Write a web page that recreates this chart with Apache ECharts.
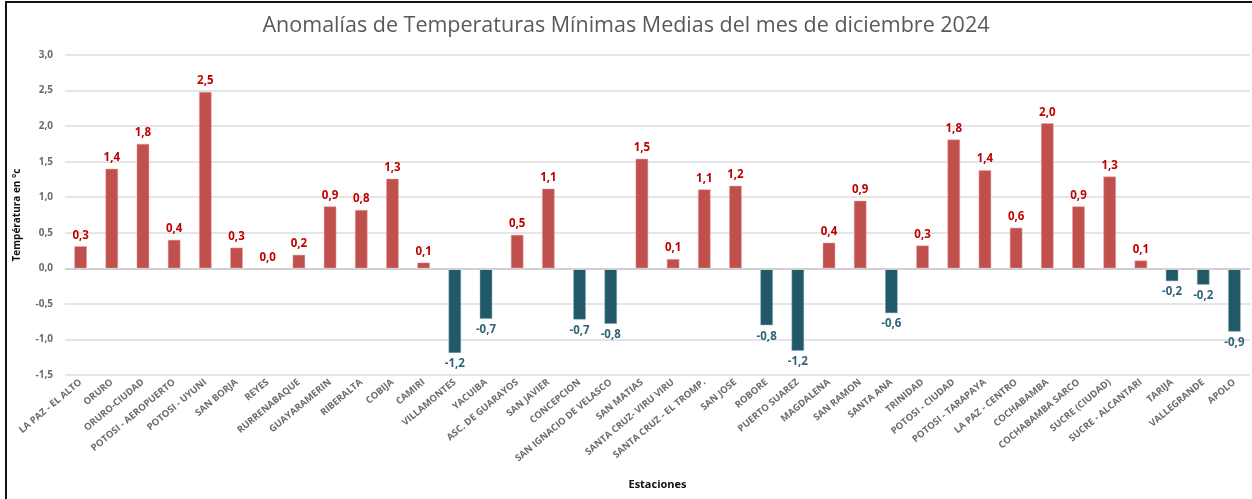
<!DOCTYPE html>
<html>
<head>
<meta charset="utf-8">
<script src="https://cdn.jsdelivr.net/npm/echarts@6/dist/echarts.min.js"></script>
<style>
  html, body { margin: 0; padding: 0; background: #ffffff; }
  #frame { position: absolute; left: 5px; top: 1px; width: 1260px; height: 520px;
           border-left: 2px solid #111; border-top: 2px solid #111; box-sizing: border-box; }
  #chart { position: absolute; left: 0; top: 0; width: 1252px; height: 499px; }
</style>
</head>
<body>
<div id="chart"></div>
<div id="frame"></div>
<script>
// Estaciones meteorológicas
const estaciones = [
  'LA PAZ - EL ALTO', 'ORURO', 'ORURO-CIUDAD', 'POTOSI - AEROPUERTO', 'POTOSI - UYUNI',
  'SAN BORJA', 'REYES', 'RURRENABAQUE', 'GUAYARAMERIN', 'RIBERALTA', 'COBIJA', 'CAMIRI',
  'VILLAMONTES', 'YACUIBA', 'ASC. DE GUARAYOS', 'SAN JAVIER', 'CONCEPCION',
  'SAN IGNACIO DE VELASCO', 'SAN MATIAS', 'SANTA CRUZ- VIRU VIRU', 'SANTA CRUZ - EL TROMP.',
  'SAN JOSE', 'ROBORE', 'PUERTO SUAREZ', 'MAGDALENA', 'SAN RAMON', 'SANTA ANA', 'TRINIDAD',
  'POTOSI - CIUDAD', 'POTOSI - TARAPAYA', 'LA PAZ - CENTRO', 'COCHABAMBA', 'COCHABAMBA SARCO',
  'SUCRE (CIUDAD)', 'SUCRE - ALCANTARI', 'TARIJA', 'VALLEGRANDE', 'APOLO'
];

// Anomalía de la temperatura mínima media (°C)
const anomalias = [
  0.31, 1.40, 1.75, 0.40, 2.48,
  0.29, -0.02, 0.19, 0.87, 0.82, 1.26, 0.08,
  -1.19, -0.71, 0.47, 1.12, -0.72,
  -0.78, 1.54, 0.13, 1.11,
  1.16, -0.80, -1.16, 0.36, 0.95, -0.63, 0.32,
  1.81, 1.38, 0.57, 2.04, 0.87,
  1.29, 0.11, -0.18, -0.23, -0.89
];

// Eje vertical
const yMin = -1.5, yMax = 3.0, yPaso = 0.5;

const ROJO = '#C0504D', ROJO_TXT = '#C00000';
const AZUL = '#215968', AZUL_TXT = '#2E6478';

// valores que redondean a 0,0 se tratan como no negativos
const esNegativo = v => v <= -0.05;
const fmt = v => {
  const r = Math.abs(v) < 0.05 ? 0 : v;
  return r.toFixed(1).replace('.', ',');
};

const chart = echarts.init(document.getElementById('chart'));
chart.setOption({
  animation: false,
  backgroundColor: '#ffffff',
  textStyle: { fontFamily: 'Open Sans, Liberation Sans, sans-serif' },
  title: {
    text: 'Anomalías de Temperaturas Mínimas Medias del mes de diciembre 2024',
    left: 621, top: 10, textAlign: 'center',
    textStyle: { fontSize: 21.5, fontWeight: 'normal', color: '#595959', fontFamily: 'Open Sans' }
  },
  grid: { left: 65, right: 2, top: 55, bottom: 124, containLabel: false },
  xAxis: {
    type: 'category',
    data: estaciones,
    name: 'Estaciones',
    nameLocation: 'middle',
    nameGap: 104,
    nameTextStyle: { fontSize: 11, fontWeight: 'bold', color: '#111' },
    axisLine: { show: false },
    axisTick: { show: false },
    axisLabel: {
      interval: 0, rotate: 40, margin: 6,
      fontSize: 9.5, color: '#6b6b6b', fontWeight: 'bold'
    }
  },
  yAxis: {
    type: 'value',
    min: yMin, max: yMax, interval: yPaso,
    name: 'Températura en °c',
    nameLocation: 'middle',
    nameGap: 43,
    nameRotate: 90,
    nameTextStyle: { fontSize: 10, fontWeight: 'bold', color: '#111' },
    axisLine: { show: false },
    axisTick: { show: false },
    axisLabel: {
      margin: 12, fontSize: 10, fontWeight: 'bold', color: '#6b6b6b',
      formatter: v => v.toFixed(1).replace('.', ',')
    },
    splitLine: { lineStyle: { color: '#DDDDDD', width: 1.5 } }
  },
  series: [{
    type: 'bar',
    barWidth: '40%',
    data: anomalias.map(v => ({
      value: v,
      itemStyle: {
        color: esNegativo(v) ? AZUL : ROJO,
        borderColor: esNegativo(v) ? '#8FB2BC' : '#E6A5A3',
        borderWidth: 0.5
      },
      label: {
        position: esNegativo(v) ? 'bottom' : 'top',
        color: esNegativo(v) ? AZUL_TXT : ROJO_TXT
      }
    })),
    label: {
      show: true,
      distance: 5,
      fontSize: 11.5,
      fontWeight: 'bold',
      formatter: p => fmt(p.value)
    },
    markLine: {
      silent: true, symbol: 'none', label: { show: false },
      lineStyle: { color: '#D0D0D0', width: 2, type: 'solid' },
      data: [{ yAxis: 0 }]
    }
  }]
});
</script>
</body>
</html>
